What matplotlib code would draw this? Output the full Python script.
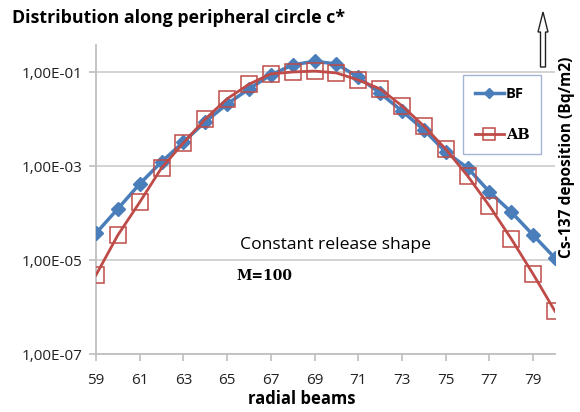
import numpy as np
import matplotlib
matplotlib.use("Agg")
import matplotlib.pyplot as plt
from matplotlib.patches import FancyArrow
from matplotlib.ticker import FixedLocator, NullLocator

beams = list(range(59, 81))
bf_log = [-4.43, -3.91, -3.38, -2.91, -2.49, -2.06, -1.68, -1.36, -1.06, -0.85, -0.77,
          -0.83, -1.11, -1.45, -1.83, -2.23, -2.70, -3.04, -3.55, -3.98, -4.47, -4.96]
ab_log = [-5.32, -4.47, -3.77, -3.04, -2.51, -2.00, -1.57, -1.26, -1.04, -1.00, -0.98,
          -1.02, -1.17, -1.36, -1.72, -2.15, -2.64, -3.21, -3.85, -4.55, -5.30, -6.09]
bf = [10 ** v for v in bf_log]
ab = [10 ** v for v in ab_log]
xticks = list(range(59, 80, 2))
yticks = [1e-1, 1e-3, 1e-5, 1e-7]
ytick_labels = ["1,00E-01", "1,00E-03", "1,00E-05", "1,00E-07"]

plt.rcParams['font.family'] = ['Open Sans', 'DejaVu Sans']

fig = plt.figure(figsize=(5.8, 4.12), dpi=100)
ax = fig.add_axes([96/580, 1-354/412, (555-96)/580, (354-45)/412])

blue = "#4A7EBB"
red = "#BE4B48"
ax.plot(beams, bf, color=blue, lw=2.5, marker="D", ms=7, mfc=blue, mec=blue, label="BF", zorder=3)
ax.plot(beams, ab, color=red, lw=2.0, marker="s", ms=11, mfc="none", mec=red, mew=1.1, label="AB", zorder=4)

ax.set_yscale("log")
ax.set_xlim(59, 80)
ax.set_ylim(1e-7, 10 ** (-1 + 27/47))
ax.yaxis.set_major_locator(FixedLocator(yticks))
ax.yaxis.set_minor_locator(NullLocator())
ax.set_yticklabels(ytick_labels)
ax.set_xticks(xticks)
ax.set_xticklabels([str(t) for t in xticks])
ax.tick_params(axis="both", labelsize=11, color="#BFBFBF", length=5, width=1.2, labelcolor="#222222")
ax.tick_params(axis="x", pad=9)
ax.tick_params(axis="y", pad=5)
ax.grid(axis="y", color="#D0D0D0", lw=1.3)
ax.set_axisbelow(True)
for s in ["top", "right"]:
    ax.spines[s].set_visible(False)
for s in ["left", "bottom"]:
    ax.spines[s].set_color("#BFBFBF")
    ax.spines[s].set_linewidth(1.3)

fig.text(302/580, 1-399/412, "radial beams", fontsize=12, fontweight="bold", va="center", ha="center")

leg = ax.legend(loc="upper left", bbox_to_anchor=((463-96)/459, 1-(75-45)/309), frameon=True,
                fancybox=False, edgecolor="#8EA3C8", fontsize=10.5, labelspacing=1.9,
                handlelength=2.0, borderpad=0.8, handletextpad=0.15, borderaxespad=0,
                markerscale=0.8)
leg.get_frame().set_linewidth(1.0)
for t in leg.get_texts():
    t.set_fontweight("bold")
leg.get_texts()[1].set_fontfamily("DejaVu Serif")

fig.text(12/580, 1-18/412, "Distribution along peripheral circle c*", fontsize=12.8,
         fontweight="bold", va="center", ha="left")
fig.text(335/580, 1-245/412, "Constant release shape", fontsize=12.6, va="center", ha="center")
fig.text(264/580, 1-276/412, "M=100", fontsize=10, fontweight="bold", va="center", ha="center",
         family="DejaVu Serif")
fig.text(567/580, 1-157/412, "Cs-137 deposition (Bq/m2)", fontsize=11.2, fontweight="bold",
         rotation=90, va="center", ha="center")

arr = FancyArrow(543/580, 1-67/412, 0, 55/412, width=5/580, head_width=10/580, head_length=20/412,
                 length_includes_head=True, transform=fig.transFigure, fill=False,
                 edgecolor="#222222", lw=1.0)
fig.patches.append(arr)

fig.savefig("out.png", dpi=100)
